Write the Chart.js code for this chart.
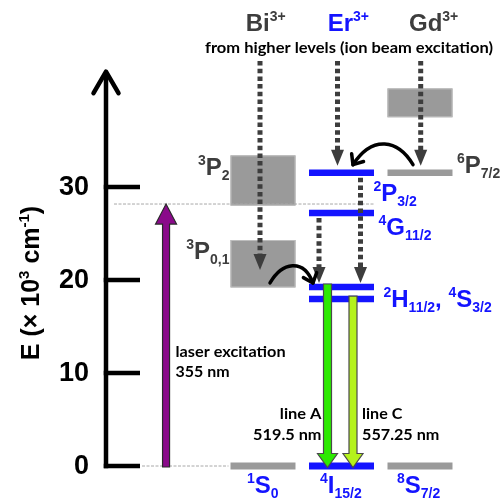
<!DOCTYPE html>
<html>
<head>
<meta charset="utf-8">
<script src="https://cdn.jsdelivr.net/npm/chart.js@4/dist/chart.umd.min.js"></script>
<style>
  html, body { margin: 0; padding: 0; background: #fff; }
  canvas { display: block; }
</style>
</head>
<body>
<canvas id="c" width="500" height="500"></canvas>
<script>
// ---- data (energies in 10^3 cm^-1) ----
const IONS = ['Bi|^3+', 'Er|^3+', 'Gd|^3+'];
const SUBTITLE = 'from higher levels (ion beam excitation)';

// sharp levels
const LEVEL_KEYS = ['1S0', '4I15/2', '8S7/2', '4S3/2', '2H11/2', '4G11/2', '2P3/2', '6P7/2'];
const LEVEL_ION  = [0, 1, 2, 1, 1, 1, 1, 2];
const LEVEL_E    = [0, 0, 0, 17.95, 19.25, 27.2, 31.54, 31.54];
const LEVEL_NAME = ['^1|S|_0', '^4|I|_15/2', '^8|S|_7/2', '', '^2|H|_11/2|, |^4|S|_3/2', '^4|G|_11/2', '^2|P|_3/2', '^6|P|_7/2'];

// broad bands
const BAND_KEYS = ['3P0,1', '3P2', 'Gd-upper'];
const BAND_ION  = [0, 0, 2];
const BAND_LOW  = [19.2, 28.0, 37.5];
const BAND_HIGH = [24.3, 33.4, 40.6];
const BAND_NAME = ['^3|P|_0,1', '^3|P|_2', ''];

// optical transitions
const LASER_NM = 355;
const LASER_TEXT = ['laser excitation', '355 nm'];
const EMISSION_NAMES = ['line A', 'line C'];
const EMISSION_NM = [519.5, 557.25];
const EMISSION_FROM = ['2H11/2', '4S3/2'];

// non-radiative relaxation paths between levels
const RELAX_FROM = ['2P3/2', '4G11/2'];
const RELAX_TO   = ['2H11/2', '2H11/2'];

const Y_TICKS = [0, 10, 20, 30];
const Y_TITLE = 'E (× 10|^3| cm|^-1|)';

// ---- styling ----
const BLUE = '#1414ff';
const DARK = '#3d3d3d';
const BAR_GRAY = '#9a9a9a';
const HALF = 0.414;               // half width of a level bar, in column units
const FONT = '"Liberation Sans", Arial, sans-serif';
const TEXT_FONT = 'Lato, "Liberation Sans", sans-serif';

const toE = nm => 1e4 / nm;       // wavelength (nm) -> 10^3 cm^-1
const col = i => 2 + i;           // column position of an ion on the x scale
const levelE = key => LEVEL_E[LEVEL_KEYS.indexOf(key)];

function parseRich(s) {
  return s.split('|').filter(p => p.length).map(p =>
    p[0] === '^' ? { t: p.slice(1), k: 'sup' } :
    p[0] === '_' ? { t: p.slice(1), k: 'sub' } : { t: p, k: 'n' });
}
function drawRich(ctx, s, x, y, o) {
  const parts = parseRich(s);
  const size = o.size || 24, small = o.small || 14;
  const fnt = k => 'bold ' + (k === 'n' ? size : small) + 'px ' + FONT;
  let w = 0;
  parts.forEach(p => { ctx.font = fnt(p.k); p.w = ctx.measureText(p.t).width; w += p.w; });
  let cx = o.align === 'right' ? x - w : o.align === 'center' ? x - w / 2 : x;
  ctx.fillStyle = o.color;
  ctx.textBaseline = 'alphabetic';
  ctx.textAlign = 'left';
  parts.forEach(p => {
    ctx.font = fnt(p.k);
    const dy = p.k === 'sup' ? (o.supDy || -10) : p.k === 'sub' ? (o.subDy || 5) : 0;
    ctx.fillText(p.t, cx, y + dy);
    cx += p.w;
  });
}
function fitText(ctx, text, x, y, w, align, font) {
  ctx.font = font;
  ctx.textAlign = 'left';
  ctx.textBaseline = 'alphabetic';
  const m = ctx.measureText(text).width;
  const x0 = align === 'right' ? x - w : align === 'center' ? x - w / 2 : x;
  ctx.save();
  ctx.translate(x0, y);
  ctx.scale(w / m, 1);
  ctx.fillStyle = '#000';
  ctx.fillText(text, 0, 0);
  ctx.restore();
}
function blockArrow(ctx, x, yTail, yTip, sw, hw, hh, fill, stroke) {
  const d = yTip > yTail ? 1 : -1;
  const yb = yTip - d * hh;
  ctx.beginPath();
  ctx.moveTo(x - sw / 2, yTail);
  ctx.lineTo(x + sw / 2, yTail);
  ctx.lineTo(x + sw / 2, yb);
  ctx.lineTo(x + hw / 2, yb);
  ctx.lineTo(x, yTip);
  ctx.lineTo(x - hw / 2, yb);
  ctx.lineTo(x - sw / 2, yb);
  ctx.closePath();
  ctx.fillStyle = fill;
  ctx.fill();
  ctx.lineWidth = 1.2;
  ctx.strokeStyle = stroke;
  ctx.stroke();
}
function dottedArrow(ctx, x, y0, yTip) {
  const hh = 16, hw = 13;
  ctx.save();
  ctx.strokeStyle = DARK;
  ctx.lineWidth = 5;
  ctx.setLineDash([4.5, 3.2]);
  ctx.beginPath();
  ctx.moveTo(x, y0);
  ctx.lineTo(x, yTip - hh + 1);
  ctx.stroke();
  ctx.setLineDash([]);
  ctx.fillStyle = DARK;
  ctx.beginPath();
  ctx.moveTo(x - hw / 2, yTip - hh);
  ctx.lineTo(x + hw / 2, yTip - hh);
  ctx.lineTo(x, yTip);
  ctx.closePath();
  ctx.fill();
  ctx.restore();
}
function curvedArrow(ctx, p0, c1, c2, p3) {
  ctx.save();
  ctx.strokeStyle = '#000';
  ctx.lineWidth = 3.5;
  ctx.lineCap = 'round';
  ctx.lineJoin = 'round';
  ctx.beginPath();
  ctx.moveTo(p0[0], p0[1]);
  ctx.bezierCurveTo(c1[0], c1[1], c2[0], c2[1], p3[0], p3[1]);
  ctx.stroke();
  const a = Math.atan2(p3[1] - c2[1], p3[0] - c2[0]);
  const L = 11, s = 0.7;
  ctx.beginPath();
  ctx.moveTo(p3[0] - L * Math.cos(a - s), p3[1] - L * Math.sin(a - s));
  ctx.lineTo(p3[0], p3[1]);
  ctx.lineTo(p3[0] - L * Math.cos(a + s), p3[1] - L * Math.sin(a + s));
  ctx.stroke();
  ctx.restore();
}

const diagram = {
  id: 'diagram',
  beforeDatasetsDraw(chart) {
    const { ctx, scales: { x, y } } = chart;
    const X = v => x.getPixelForValue(v), Y = v => y.getPixelForValue(v);
    const ax = X(0);
    ctx.save();
    // broad bands
    BAND_LOW.forEach((lo, i) => {
      const c = col(BAND_ION[i]);
      const l = X(c - HALF), r = X(c + HALF), t = Y(BAND_HIGH[i]), b = Y(lo);
      ctx.fillStyle = BAR_GRAY;
      ctx.fillRect(l, t, r - l, b - t);
      ctx.strokeStyle = '#bdbdbd';
      ctx.lineWidth = 1;
      ctx.strokeRect(l + 0.5, t + 0.5, r - l - 1, b - t - 1);
    });
    // guide lines
    ctx.strokeStyle = '#a8a8a8';
    ctx.lineWidth = 1;
    ctx.setLineDash([3, 1.5]);
    const yl = Y(toE(LASER_NM));
    ctx.beginPath();
    ctx.moveTo(ax + 8, yl); ctx.lineTo(X(col(1) + HALF), yl);
    ctx.moveTo(ax + 36, Y(0)); ctx.lineTo(X(col(0) - HALF) - 2, Y(0));
    ctx.stroke();
    ctx.setLineDash([]);
    // energy axis
    ctx.strokeStyle = '#000';
    ctx.lineWidth = 4.5;
    ctx.lineCap = 'butt';
    const top = Y(42.4);
    ctx.beginPath();
    ctx.moveTo(ax, Y(0) + 2.25);
    ctx.lineTo(ax, top + 2);
    ctx.stroke();
    ctx.lineCap = 'round';
    ctx.lineJoin = 'round';
    ctx.beginPath();
    ctx.moveTo(ax - 12.5, top + 21.5);
    ctx.lineTo(ax, top);
    ctx.lineTo(ax + 12.5, top + 21.5);
    ctx.stroke();
    ctx.lineCap = 'butt';
    ctx.font = 'bold 27px ' + FONT;
    ctx.textAlign = 'right';
    ctx.textBaseline = 'middle';
    ctx.fillStyle = '#000';
    Y_TICKS.forEach(t => {
      ctx.beginPath();
      ctx.moveTo(ax - 2.25, Y(t));
      ctx.lineTo(ax + 34, Y(t));
      ctx.stroke();
      ctx.fillText(String(t), ax - 17, Y(t) + 1);
    });
    // axis title
    ctx.save();
    ctx.translate(39, 283);
    ctx.rotate(-Math.PI / 2);
    drawRich(ctx, Y_TITLE, 0, 0, { size: 25, small: 15, color: '#000', align: 'center', supDy: -10 });
    ctx.restore();
    ctx.restore();
  },
  afterDatasetsDraw(chart) {
    const { ctx, scales: { x, y } } = chart;
    const X = v => x.getPixelForValue(v), Y = v => y.getPixelForValue(v);
    const ax = X(0);
    const bi = X(col(0)), er = X(col(1)), gd = X(col(2));
    ctx.save();

    // relaxation from higher levels
    const topY = 61;
    dottedArrow(ctx, bi - 3, topY, Y(BAND_HIGH[0]) + 30);
    dottedArrow(ctx, er - 4, topY, Y(levelE('2P3/2')) - 7);
    dottedArrow(ctx, gd + 0.7, topY, Y(levelE('6P7/2')) - 7);
    const relaxDx = [19, -22.5];
    RELAX_FROM.forEach((k, i) => {
      dottedArrow(ctx, er + relaxDx[i], Y(levelE(k)) + 5, Y(levelE(RELAX_TO[i])) - 4);
    });

    // energy transfer to Er
    const yP = Y(levelE('6P7/2')) - 8;
    curvedArrow(ctx, [gd - 7, yP], [gd - 22, yP - 25], [er + 31, yP - 30], [er + 11.5, yP]);
    const yH = Y(levelE('2H11/2')) - 4;
    curvedArrow(ctx, [bi + 7, yH], [bi + 19, yH - 21], [er - 38, yH - 25], [er - 28.5, yH]);

    // laser excitation
    const lx = X(0.765);
    blockArrow(ctx, lx, Y(0) + 1, Y(toE(LASER_NM)), 7, 21, 20, '#8a0a8a', '#2a2a2a');

    // emission lines
    const emDx = [-14, 11.5];
    const emFill = ['#2cea00', '#b4f21c'];
    EMISSION_NM.forEach((nm, i) => {
      const ex = er + emDx[i];
      const e = toE(nm);
      blockArrow(ctx, ex, Y(e) - 3, Y(0) + 1.5, 8, 20, 14, emFill[i], '#4a4a4a');
    });

    // ion titles and subtitle
    const titleDx = [-17.3, -13.8, -11];
    const titleColor = [DARK, BLUE, DARK];
    IONS.forEach((t, i) => {
      drawRich(ctx, t, X(col(i)) + titleDx[i], 31, { size: 24, small: 14, color: titleColor[i], supDy: -10 });
    });
    fitText(ctx, SUBTITLE, 349, 53, 288, 'center', 'bold 16px ' + TEXT_FONT);

    // level names
    const lab = {
      '1S0':    { x: bi - 16,   dy: 27,  align: 'left',  color: BLUE },
      '4I15/2': { x: er - 21.5, dy: 27,  align: 'left',  color: BLUE },
      '8S7/2':  { x: gd - 23,   dy: 27,  align: 'left',  color: BLUE },
      '2H11/2': { x: er + 42,   dy: 20,  align: 'left',  color: BLUE },
      '4G11/2': { x: er + 37,   dy: 22,  align: 'left',  color: BLUE },
      '2P3/2':  { x: er + 32,   dy: 28,  align: 'left',  color: BLUE },
      '6P7/2':  { x: gd + 37,   dy: 0.5, align: 'left',  color: DARK }
    };
    LEVEL_KEYS.forEach((k, i) => {
      const p = lab[k];
      if (!p || !LEVEL_NAME[i]) return;
      drawRich(ctx, LEVEL_NAME[i], p.x, Y(LEVEL_E[i]) + p.dy, { size: 24, small: 14, color: p.color, align: p.align });
    });
    const bandDy = [19, 20];
    BAND_NAME.forEach((n, i) => {
      if (!n) return;
      drawRich(ctx, n, X(col(BAND_ION[i]) - HALF) - 1, Y(BAND_HIGH[i]) + bandDy[i], { size: 24, small: 14, color: DARK, align: 'right' });
    });

    // transition captions
    const tf = 'bold 15px ' + TEXT_FONT;
    fitText(ctx, LASER_TEXT[0], lx + 9.5, 357, 110, 'left', tf);
    fitText(ctx, LASER_TEXT[1], lx + 9.5, 377, 54, 'left', tf);
    fitText(ctx, EMISSION_NAMES[0], er - 20, 419, 41.7, 'right', tf);
    fitText(ctx, EMISSION_NM[0] + ' nm', er - 20, 440, 68.4, 'right', tf);
    fitText(ctx, EMISSION_NAMES[1], er + 20.5, 419, 40.3, 'left', tf);
    fitText(ctx, EMISSION_NM[1] + ' nm', er + 20.5, 440, 77.3, 'left', tf);

    ctx.restore();
  }
};

// level bars as horizontal line segments on the chart scales
const datasets = LEVEL_E.map((e, i) => ({
  label: LEVEL_KEYS[i],
  data: [{ x: col(LEVEL_ION[i]) - HALF, y: e }, { x: col(LEVEL_ION[i]) + HALF, y: e }],
  borderColor: LEVEL_ION[i] === 1 ? BLUE : BAR_GRAY,
  borderWidth: e === 0 ? 7 : 6.5,
  borderCapStyle: 'butt',
  pointRadius: 0,
  fill: false,
  tension: 0
}));

new Chart(document.getElementById('c'), {
  type: 'line',
  data: { datasets },
  options: {
    responsive: false,
    devicePixelRatio: 1,
    animation: false,
    events: [],
    layout: { padding: 0 },
    scales: {
      x: { type: 'linear', min: -106 / 78.5, max: 394 / 78.5, display: false },
      y: { type: 'linear', min: -34 / 9.3, max: 466 / 9.3, display: false }
    },
    plugins: { legend: { display: false }, tooltip: { enabled: false } }
  },
  plugins: [diagram]
});
</script>
</body>
</html>
